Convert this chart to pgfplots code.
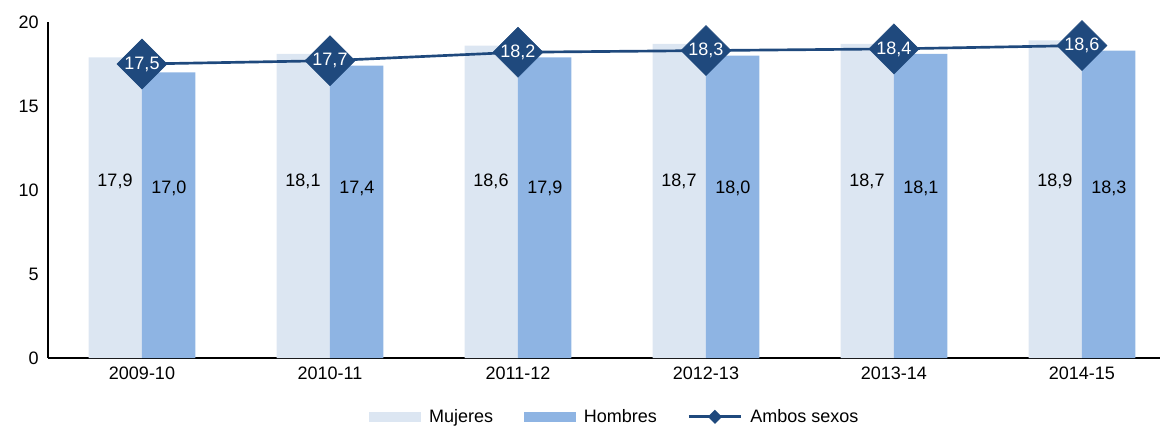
\documentclass[border=0pt]{standalone}
\usepackage{fontspec}
\setmainfont{Liberation Sans}
\usepackage{pgfplots}
\usepackage{pgfplotstable}
\pgfplotsset{compat=1.18}
\definecolor{muj}{HTML}{DCE6F2}
\definecolor{hom}{HTML}{8EB4E3}
\definecolor{amb}{HTML}{1F497D}
\newcommand{\f}{\fontsize{13.5pt}{16pt}\selectfont}
\pgfplotstableread{
x y m
-0.1436 10.5 17,9
0.8564 10.5 18,1
1.8564 10.5 18,6
2.8564 10.5 18,7
3.8564 10.5 18,7
4.8564 10.5 18,9
}\labmuj
\pgfplotstableread{
x y m
0.1436 10.1 17,0
1.1436 10.1 17,4
2.1436 10.1 17,9
3.1436 10.1 18,0
4.1436 10.1 18,1
5.1436 10.1 18,3
}\labhom
\begin{document}
\begin{tikzpicture}
\useasboundingbox (-36pt,-50.25pt) rectangle (834pt,268.5pt);
\begin{axis}[
  at={(0pt,0pt)}, anchor=south west,
  scale only axis, width=834pt, height=252pt,
  xmin=-0.5, xmax=5.415, ymin=0, ymax=20,
  clip=false,
  axis x line*=bottom, axis y line*=left,
  axis line style={-, black, line width=0.8pt},
  xtick={0,1,2,3,4,5},
  xticklabels={2009-10,2010-11,2011-12,2012-13,2013-14,2014-15},
  ytick={0,5,10,15,20},
  major tick length=0pt,
  tick label style={font=\f},
  yticklabel style={xshift=-3.5pt},
  xticklabel style={yshift=-3pt},
  /pgf/number format/assume math mode=true,
  legend columns=3,
  legend style={draw=none, at={(axis description cs:0.51,-0.175)}, anchor=center, font=\f,
    /tikz/every even column/.append style={column sep=21pt}},
]
\addplot[ybar, bar width=40pt, bar shift=-20pt, fill=muj, draw=none,
  legend image code/.code={\fill[muj] (0pt,-3.75pt) rectangle (39pt,3.75pt); \path (43pt,0pt);}]
  coordinates {(0,17.9) (1,18.1) (2,18.6) (3,18.7) (4,18.7) (5,18.9)};
\addlegendentry{Mujeres}
\addplot[ybar, bar width=40pt, bar shift=20pt, fill=hom, draw=none,
  legend image code/.code={\fill[hom] (0pt,-3.75pt) rectangle (39pt,3.75pt); \path (43pt,0pt);}]
  coordinates {(0,17.0) (1,17.4) (2,17.9) (3,18.0) (4,18.1) (5,18.3)};
\addlegendentry{Hombres}
\addplot[amb, line width=2pt, mark=square*, mark size=13.26pt,
  mark options={rotate=45, fill=amb, draw=amb, line width=0.4pt},
  point meta=y,
  nodes near coords={\pgfmathprintnumber[fixed,fixed zerofill,precision=1,use comma]{\pgfplotspointmeta}},
  every node near coord/.append style={anchor=center, text=white, font=\f},
  legend image code/.code={\draw[amb, line width=2pt] (0pt,0pt) -- (39pt,0pt);
     \fill[amb] (19.5pt,3.9pt) -- (23.4pt,0pt) -- (19.5pt,-3.9pt) -- (15.6pt,0pt) -- cycle; \path (43pt,0pt);}]
  coordinates {(0,17.5) (1,17.7) (2,18.2) (3,18.3) (4,18.4) (5,18.6)};
\addlegendentry{Ambos sexos}
\addplot[draw=none, mark=none, forget plot, point meta=explicit symbolic,
  nodes near coords, every node near coord/.append style={anchor=center, font=\f, text=black}]
  table[x=x, y=y, meta=m] {\labmuj};
\addplot[draw=none, mark=none, forget plot, point meta=explicit symbolic,
  nodes near coords, every node near coord/.append style={anchor=center, font=\f, text=black}]
  table[x=x, y=y, meta=m] {\labhom};
\end{axis}
\end{tikzpicture}
\end{document}
